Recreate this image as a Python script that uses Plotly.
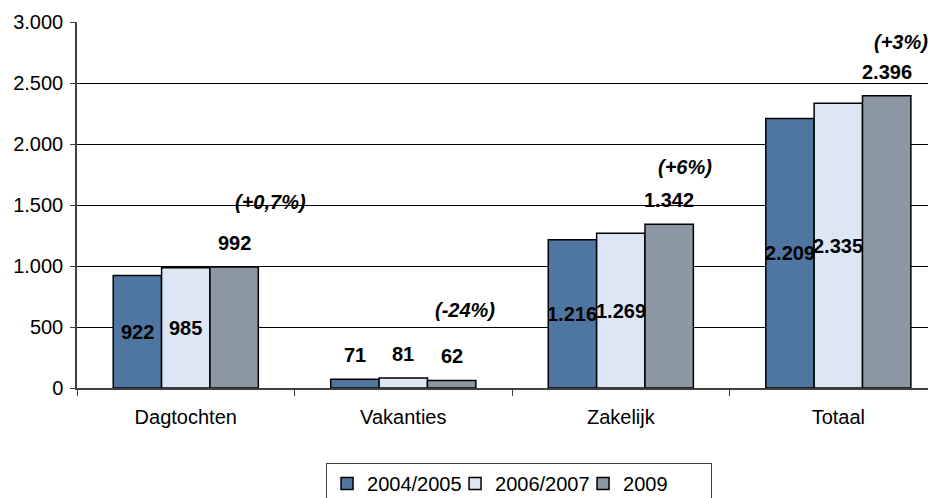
import plotly.graph_objects as go

categories = ["Dagtochten", "Vakanties", "Zakelijk", "Totaal"]
series_names = ["2004/2005", "2006/2007", "2009"]
values_2004_2005 = [922, 71, 1216, 2209]
values_2006_2007 = [985, 81, 1269, 2335]
values_2009 = [992, 62, 1342, 2396]
change_labels = ["(+0,7%)", "(-24%)", "(+6%)", "(+3%)"]
y_ticks = [0, 500, 1000, 1500, 2000, 2500, 3000]

series_values = [values_2004_2005, values_2006_2007, values_2009]
colors = ["#4F76A0", "#DCE6F5", "#8C97A6"]

FONT = "Liberation Sans, Arial, sans-serif"

fig = go.Figure()
for name, vals, col in zip(series_names, series_values, colors):
    fig.add_trace(go.Bar(
        x=categories, y=vals, name=name,
        marker=dict(color=col, line=dict(color="#000000", width=1.5)),
    ))

bargap = 0.333
bw = (1 - bargap) / 3


def fmt(v):
    return f"{v:,}".replace(",", ".")


annotations = []
for si, vals in enumerate(series_values):
    for ci, v in enumerate(vals):
        xpos = ci + (si - 1) * bw
        inside = si < 2 and v > 300
        if inside:
            annotations.append(dict(x=xpos, y=v / 2, xref="x", yref="y", text=f"<b>{fmt(v)}</b>",
                                    showarrow=False, yanchor="middle",
                                    font=dict(family=FONT, size=20, color="#000")))
        else:
            annotations.append(dict(x=xpos, y=v, xref="x", yref="y", text=f"<b>{fmt(v)}</b>",
                                    showarrow=False, yanchor="middle", yshift=24,
                                    font=dict(family=FONT, size=20, color="#000")))

pct_xshift = [36, 13, 16, 14]
pct_yshift = [65, 70, 57, 54]
for ci, lab in enumerate(change_labels):
    annotations.append(dict(x=ci + bw, y=values_2009[ci], xref="x", yref="y",
                            text=f"<b><i>{lab}</i></b>", showarrow=False,
                            yanchor="middle", xshift=pct_xshift[ci], yshift=pct_yshift[ci],
                            font=dict(family=FONT, size=20, color="#000")))

# page body has an 8px margin; figure sized to the visible area
fig.update_layout(
    width=928, height=490,
    margin=dict(l=69, r=0, t=14, b=110, autoexpand=False),
    paper_bgcolor="white", plot_bgcolor="white",
    barmode="group", bargap=bargap, bargroupgap=0,
    separators=",.",
    font=dict(family=FONT, size=20, color="#000"),
    showlegend=True,
    legend=dict(orientation="h", x=0.5146, xanchor="center", y=-0.205, yanchor="top",
                bordercolor="#404040", borderwidth=1, entrywidth=83,
                font=dict(family=FONT, size=20, color="#000"),
                traceorder="normal"),
    annotations=annotations,
    xaxis=dict(range=[-0.5, 3.449], showgrid=False, ticks="outside", tickson="boundaries",
               ticklen=6, tickcolor="#404040", showline=True, linecolor="#404040", linewidth=1.5,
               automargin=False,
               tickfont=dict(family=FONT, size=20, color="#000"), ticklabelstandoff=10),
    yaxis=dict(range=[0, 3000], tickvals=y_ticks, tickformat=",d", showgrid=True,
               gridcolor="#000000", gridwidth=1, ticks="outside", ticklen=5,
               tickcolor="#404040", showline=True, linecolor="#404040", linewidth=1.5,
               zeroline=False, ticklabelstandoff=3, automargin=False,
               tickfont=dict(family=FONT, size=20, color="#000")),
)

fig.write_html("out.html")
